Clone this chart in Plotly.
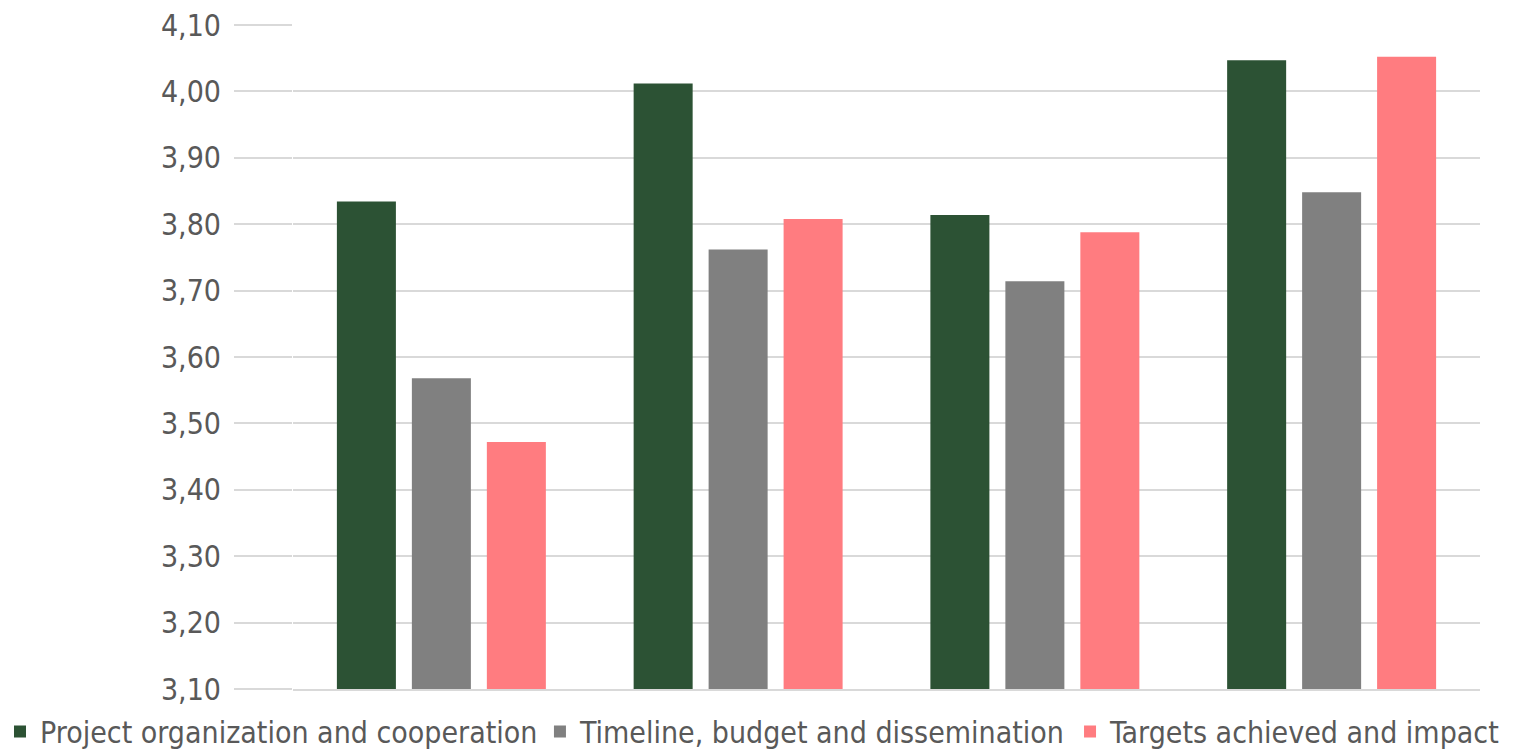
import plotly.graph_objects as go

groups = ["Group 1", "Group 2", "Group 3", "Group 4"]
series_names = ["Project organization and cooperation",
                "Timeline, budget and dissemination",
                "Targets achieved and impact"]
project_org = [3.834, 4.012, 3.814, 4.047]
timeline_budget = [3.568, 3.762, 3.714, 3.848]
targets_impact = [3.472, 3.808, 3.788, 4.052]
colors = ["#2C5234", "#808080", "#FF7C80"]
y_ticks = [3.1, 3.2, 3.3, 3.4, 3.5, 3.6, 3.7, 3.8, 3.9, 4.0, 4.1]

FONT = "DejaVu Sans Condensed, Liberation Sans Narrow, Arial Narrow, Liberation Sans, Arial, sans-serif"
legend_ids = ["legend", "legend2", "legend3"]
legend_x = [0.0, 0.355, 0.7035]

fig = go.Figure()
for name, vals, col, lid in zip(series_names, [project_org, timeline_budget, targets_impact], colors, legend_ids):
    fig.add_trace(go.Bar(x=groups, y=vals, name=name, legend=lid,
                         marker=dict(color=col, line=dict(width=0))))

legend_common = dict(orientation="h", xanchor="left", xref="container", yref="container",
                     y=0.026, yanchor="middle", bgcolor="rgba(0,0,0,0)",
                     font=dict(size=30, family=FONT, color="#595959"), itemwidth=30)

fig.update_layout(
    width=1521, height=751,
    margin=dict(l=293, r=41, t=25, b=62, autoexpand=False),
    paper_bgcolor="white", plot_bgcolor="white",
    barmode="group", bargap=0.242, bargroupgap=0.213,
    separators=", ",
    font=dict(family=FONT, color="#595959", size=30),
    showlegend=True,
    legend=dict(x=legend_x[0], **legend_common),
    legend2=dict(x=legend_x[1], **legend_common),
    legend3=dict(x=legend_x[2], **legend_common),
    xaxis=dict(showticklabels=False, showgrid=False, showline=True, linecolor="#d9d9d9",
               linewidth=2, ticks="", zeroline=False),
    yaxis=dict(range=[3.1, 4.1], tickvals=y_ticks, tickformat=".2f",
               showgrid=True, gridcolor="#d9d9d9", gridwidth=2, zeroline=False,
               ticks="outside", ticklen=58, tickcolor="#d9d9d9", tickwidth=2,
               ticklabelstandoff=7,
               showline=False, tickfont=dict(size=30, family=FONT, color="#595959")),
)
fig.write_html("out.html")
